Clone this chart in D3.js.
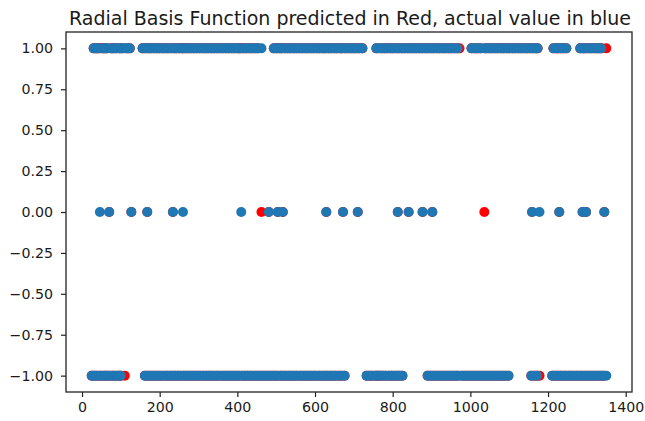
<!DOCTYPE html>
<html>
<head>
<meta charset="utf-8">
<script src="https://cdn.jsdelivr.net/npm/d3@7"></script>
<style>
  html, body { margin: 0; padding: 0; background: #fff; }
  svg { display: block; }
  text { font-family: "DejaVu Sans", sans-serif; fill: #1a1a1a; }
</style>
</head>
<body>
<svg id="chart" width="645" height="421"></svg>
<script>
// Sample indices whose actual value is 1, 0 and -1
const actualOneX = [30, 36, 41, 53, 58, 64, 75, 81, 88, 97, 103, 110, 116, 123,
  156, 163, 171, 177, 185, 192, 199, 207, 214, 221, 229, 237, 243, 250, 258, 266, 273, 280, 288, 295,
  303, 311, 318, 325, 333, 340, 348, 356, 363, 371, 378, 386, 393, 401, 406, 416, 423, 431, 438, 446, 453, 462,
  494, 501, 509, 514, 522, 530, 537, 545, 552, 560, 567, 575, 582, 590, 597, 605, 612, 620, 626, 634,
  641, 649, 656, 664, 669, 677, 684, 692, 699, 706, 714, 722,
  758, 764, 771, 779, 786, 794, 801, 809, 816, 824, 831, 839, 846, 854, 861, 869, 876, 884, 891, 899,
  906, 914, 921, 929, 936, 944, 951, 959, 967,
  1003, 1011, 1018, 1026, 1036, 1041, 1049, 1056, 1064, 1071, 1079, 1086, 1094, 1101, 1109, 1116, 1124,
  1131, 1139, 1146, 1154, 1161, 1168, 1173,
  1214, 1221, 1226, 1233, 1240, 1247,
  1283, 1290, 1296, 1304, 1311, 1318, 1325, 1331, 1337];
const actualZeroX = [46, 70, 127, 168, 234, 260, 410, 481, 504, 517, 629, 672, 710, 813, 841, 877, 902,
  1159, 1178, 1229, 1289, 1298, 1345];
const actualMinusOneX = [25, 31, 37, 44, 50, 57, 63, 69, 76, 82, 89, 95, 100,
  162, 169, 176, 183, 190, 197, 204, 212, 219, 226, 233, 240, 247, 254, 262, 269, 276, 283, 290, 297,
  304, 312, 319, 326, 333, 340, 347, 354, 362, 369, 376, 383, 390, 397, 404, 412, 419, 426, 433, 440,
  447, 454, 461, 468, 475, 482, 489, 496, 503, 511, 518, 525, 532, 539, 546, 553, 561, 568, 575, 582,
  589, 596, 603, 611, 618, 625, 632, 639, 646, 653, 661, 668, 676,
  733, 740, 747, 755, 760, 768, 775, 782, 790, 797, 804, 811, 818, 825,
  890, 897, 904, 911, 918, 925, 932, 939, 946, 953, 960, 966, 972, 979, 986, 993, 1000, 1007, 1014,
  1021, 1028, 1035, 1042, 1049, 1056, 1063, 1070, 1077, 1084, 1091, 1098,
  1157, 1165, 1172,
  1211, 1218, 1225, 1232, 1239, 1246, 1253, 1260, 1267, 1274, 1281, 1288, 1295, 1302, 1309, 1316,
  1323, 1330, 1337, 1344, 1350];
// Samples where the RBF prediction differs from the actual value
const mispredictedX = [46, 260, 410, 462, 1036, 110, 764, 972, 1178, 1350];
const mispredictedValue = [1, 1, 1, 0, 0, -1, -1, 1, -1, 1];

const xTicks = [0, 200, 400, 600, 800, 1000, 1200, 1400];
const yTicks = [1.0, 0.75, 0.5, 0.25, 0.0, -0.25, -0.5, -0.75, -1.0];
const titleText = "Radial Basis Function predicted in Red, actual value in blue";

const svg = d3.select("#chart");
const frame = { left: 66, right: 632, top: 32, bottom: 392 };

const samples = [];
[[actualOneX, 1], [actualZeroX, 0], [actualMinusOneX, -1]].forEach(([xs, v]) => {
  xs.forEach(x => {
    const i = mispredictedX.indexOf(x);
    samples.push({ x, actual: v, predicted: i >= 0 ? mispredictedValue[i] : v });
  });
});

const allX = samples.map(d => d.x);
const xMin = d3.min(allX), xMax = d3.max(allX);
const xPad = (xMax - xMin) * 0.05;
const x = d3.scaleLinear().domain([xMin - xPad, xMax + xPad]).range([frame.left, frame.right]);
const y = d3.scaleLinear().domain([-1.1, 1.1]).range([frame.bottom, frame.top]);

// Title
svg.append("text")
  .attr("x", (frame.left + frame.right) / 2 + 1)
  .attr("y", 25)
  .attr("text-anchor", "middle")
  .style("font-size", "19px")
  .text(titleText);

const r = 5;
// predicted (red) first, actual (blue) on top
svg.append("g").selectAll("circle").data(samples).join("circle")
  .attr("cx", d => x(d.x)).attr("cy", d => y(d.predicted)).attr("r", r)
  .attr("fill", "#ff0000");
svg.append("g").selectAll("circle").data(samples).join("circle")
  .attr("cx", d => x(d.x)).attr("cy", d => y(d.actual)).attr("r", r)
  .attr("fill", "#1f77b4");

// Axes
const xAxis = d3.axisBottom(x).tickValues(xTicks).tickSize(5).tickPadding(5).tickFormat(d3.format("d"));
const yAxis = d3.axisLeft(y).tickValues(yTicks).tickSize(5).tickPadding(8).tickFormat(d3.format(".2f"));

const gx = svg.append("g").attr("transform", `translate(0,${frame.bottom})`).call(xAxis);
const gy = svg.append("g").attr("transform", `translate(${frame.left},0)`).call(yAxis);
[gx, gy].forEach(g => {
  g.select(".domain").remove();
  g.selectAll(".tick line").attr("stroke", "#222").attr("stroke-width", 1.2);
  g.selectAll(".tick text").style("font-size", "14.2px").style("font-family", "DejaVu Sans, sans-serif").attr("fill", "#1a1a1a");
});

// Frame (spines)
svg.append("rect")
  .attr("x", frame.left).attr("y", frame.top)
  .attr("width", frame.right - frame.left).attr("height", frame.bottom - frame.top)
  .attr("fill", "none").attr("stroke", "#222").attr("stroke-width", 1.3);
</script>
</body>
</html>
